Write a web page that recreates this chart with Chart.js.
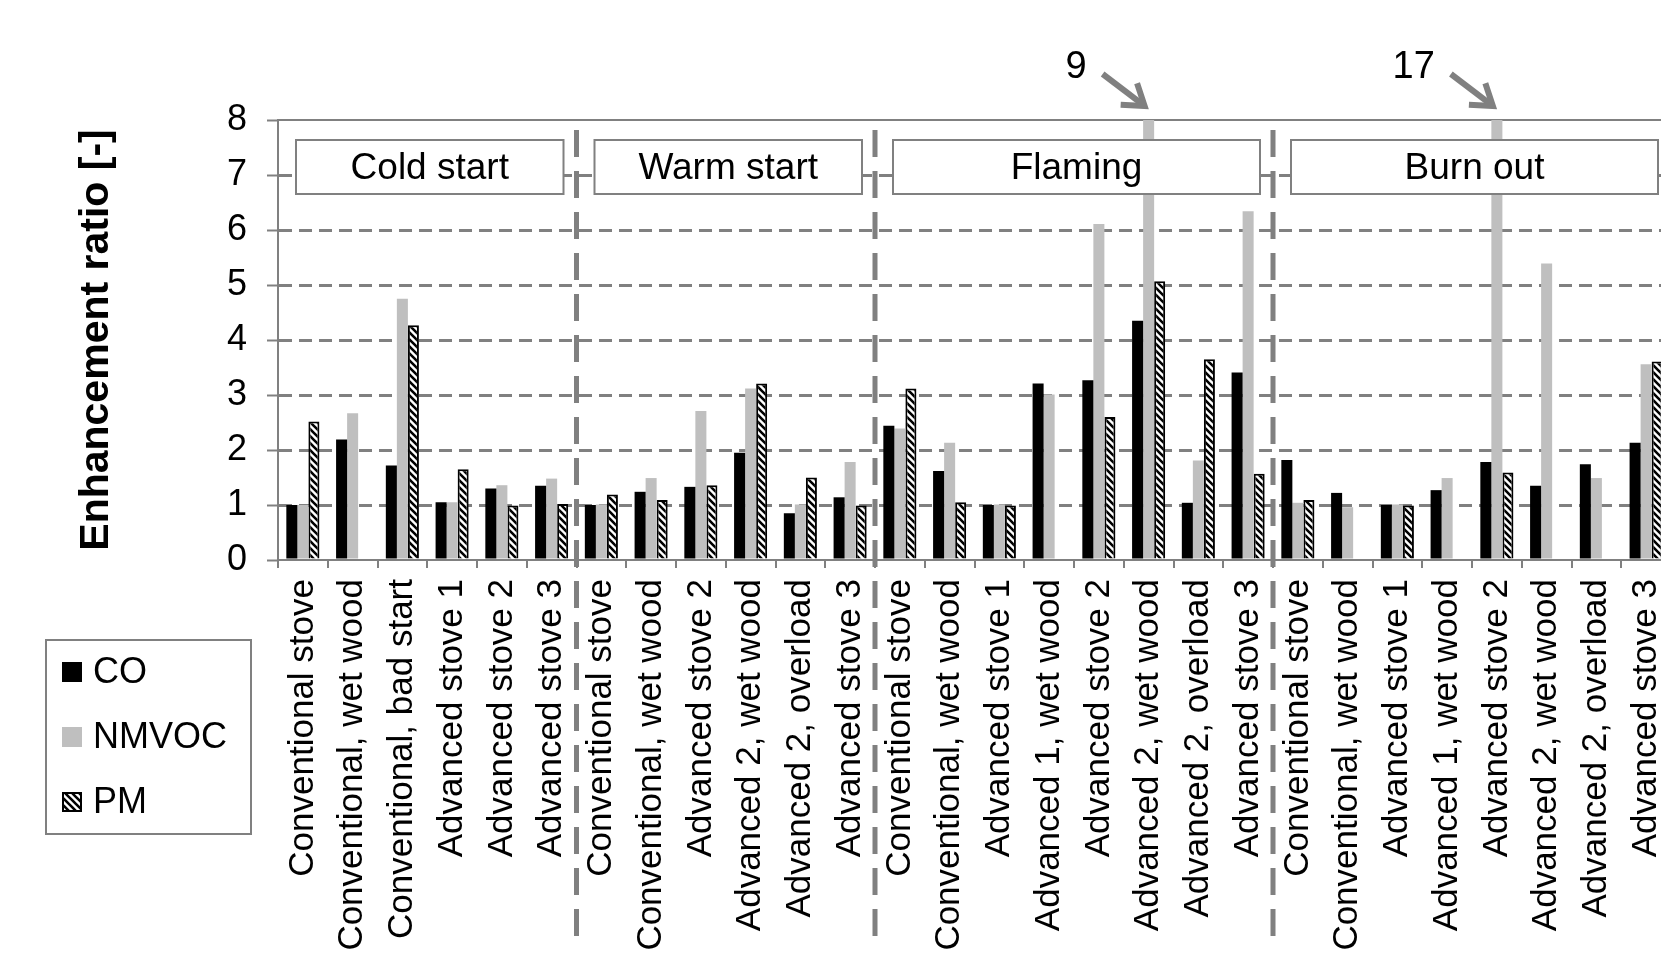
<!DOCTYPE html>
<html lang="en">
<head>
<meta charset="UTF-8">
<title>Enhancement ratio</title>
<script src="https://cdn.jsdelivr.net/npm/chart.js@4.4.1/dist/chart.umd.min.js"></script>
<style>
    html, body { margin: 0; padding: 0; background: #fff; overflow: hidden; }
    #wrap { width: 1690px; height: 954px; }
</style>
</head>
<body>
<div id="wrap"><canvas id="chart" width="1690" height="954"></canvas></div>
<script>
    // categories, grouped by combustion phase
    const categories = [
        'Conventional stove', 'Conventional, wet wood', 'Conventional, bad start',
        'Advanced stove 1', 'Advanced stove 2', 'Advanced stove 3',
        'Conventional stove', 'Conventional, wet wood', 'Advanced stove 2',
        'Advanced 2, wet wood', 'Advanced 2, overload', 'Advanced stove 3',
        'Conventional stove', 'Conventional, wet wood', 'Advanced stove 1', 'Advanced 1, wet wood',
        'Advanced stove 2', 'Advanced 2, wet wood', 'Advanced 2, overload', 'Advanced stove 3',
        'Conventional stove', 'Conventional, wet wood', 'Advanced stove 1', 'Advanced 1, wet wood',
        'Advanced stove 2', 'Advanced 2, wet wood', 'Advanced 2, overload', 'Advanced stove 3'
    ];
    const groupNames = ['Cold start', 'Warm start', 'Flaming', 'Burn out'];
    const groupSizes = [6, 6, 8, 8];

    const coValues = [1.0, 2.19, 1.72, 1.05, 1.30, 1.35,
        1.0, 1.24, 1.33, 1.95, 0.85, 1.14,
        2.44, 1.62, 1.0, 3.21, 3.27, 4.35, 1.04, 3.41,
        1.82, 1.22, 1.0, 1.27, 1.78, 1.35, 1.74, 2.13];
    const nmvocValues = [1.0, 2.67, 4.75, 1.05, 1.36, 1.48,
        1.01, 1.49, 2.71, 3.12, 1.01, 1.78,
        2.39, 2.13, 1.01, 3.01, 6.11, 9, 1.81, 6.34,
        1.04, 0.96, 1.01, 1.49, 17, 5.39, 1.49, 3.56];
    const pmValues = [2.52, null, 4.27, 1.65, 0.99, 1.02,
        1.19, 1.09, 1.36, 3.21, 1.50, 0.99,
        3.12, 1.05, 0.99, null, 2.60, 5.07, 3.65, 1.57,
        1.09, null, 0.99, null, 1.59, null, null, 3.61];

    const yTicks = [0, 1, 2, 3, 4, 5, 6, 7, 8];

    const GREY = '#808080';
    const FONT = "'Liberation Sans', Arial, sans-serif";

    function hatchPattern() {
        const s = 7;
        const c = document.createElement('canvas');
        c.width = s; c.height = s;
        const g = c.getContext('2d');
        g.fillStyle = '#fff';
        g.fillRect(0, 0, s, s);
        g.strokeStyle = '#000';
        g.lineWidth = 2.6;
        g.beginPath();
        g.moveTo(-1, -1); g.lineTo(s + 1, s + 1);
        g.moveTo(-2, s - 2); g.lineTo(2, s + 2);
        g.moveTo(s - 2, -2); g.lineTo(s + 2, 2);
        g.stroke();
        return g.createPattern(c, 'repeat');
    }
    const hatch = hatchPattern();

    // phase boxes, dashed separators, values above the axis, legend
    const overlay = {
        id: 'overlay',
        afterDatasetsDraw(chart) {
            const { ctx, chartArea } = chart;
            const xs = chart.scales.x;
            const half = (xs.getPixelForValue(1) - xs.getPixelForValue(0)) / 2;
            const edge = i => xs.getPixelForValue(i) - half;

            ctx.save();
            let start = 0;
            groupSizes.forEach((n, gi) => {
                const bx = edge(start) + 18;
                const bw = edge(start + n) - 13 - bx;
                const by = chartArea.top + 20;
                ctx.fillStyle = '#fff';
                ctx.fillRect(bx, by, bw, 54);
                ctx.strokeStyle = GREY;
                ctx.lineWidth = 2;
                ctx.strokeRect(bx, by, bw, 54);
                ctx.fillStyle = '#000';
                ctx.font = '37px ' + FONT;
                ctx.textAlign = 'center';
                ctx.textBaseline = 'middle';
                ctx.fillText(groupNames[gi], bx + bw / 2, by + 29);
                start += n;
            });
            ctx.restore();
        },
        afterDraw(chart) {
            const { ctx, chartArea } = chart;
            const xs = chart.scales.x;
            const half = (xs.getPixelForValue(1) - xs.getPixelForValue(0)) / 2;
            const edge = i => xs.getPixelForValue(i) - half;
            const ymax = chart.scales.y.max;

            ctx.save();
            // separators between phases
            ctx.strokeStyle = GREY;
            ctx.lineWidth = 5;
            ctx.setLineDash([27, 14]);
            let start = 0;
            groupSizes.slice(0, -1).forEach(n => {
                start += n;
                const x = edge(start);
                ctx.beginPath();
                ctx.moveTo(x, chartArea.top + 10);
                ctx.lineTo(x, chart.height - 8);
                ctx.stroke();
            });
            ctx.setLineDash([]);

            // off-scale values
            chart.data.datasets.forEach((ds, di) => {
                const meta = chart.getDatasetMeta(di);
                ds.data.forEach((v, i) => {
                    if (v == null || v <= ymax) return;
                    const bar = meta.data[i];
                    const tip = { x: bar.x - 4, y: chartArea.top - 14 };
                    const tail = { x: tip.x - 42, y: tip.y - 32 };
                    const ang = Math.atan2(tip.y - tail.y, tip.x - tail.x);
                    ctx.strokeStyle = GREY;
                    ctx.lineWidth = 6;
                    ctx.beginPath();
                    ctx.moveTo(tail.x, tail.y);
                    ctx.lineTo(tip.x - 3 * Math.cos(ang), tip.y - 3 * Math.sin(ang));
                    ctx.stroke();
                    ctx.beginPath();
                    ctx.moveTo(tip.x - 24 * Math.cos(ang - 0.6), tip.y - 24 * Math.sin(ang - 0.6));
                    ctx.lineTo(tip.x, tip.y);
                    ctx.lineTo(tip.x - 24 * Math.cos(ang + 0.6), tip.y - 24 * Math.sin(ang + 0.6));
                    ctx.stroke();
                    ctx.fillStyle = '#000';
                    ctx.font = '38px ' + FONT;
                    ctx.textAlign = 'right';
                    ctx.textBaseline = 'middle';
                    ctx.fillText(String(v), tail.x - 16, tail.y - 6);
                });
            });

            // legend
            ctx.fillStyle = '#fff';
            ctx.fillRect(46, 640, 205, 194);
            ctx.strokeStyle = GREY;
            ctx.lineWidth = 2;
            ctx.strokeRect(46, 640, 205, 194);
            ctx.font = '36px ' + FONT;
            ctx.textAlign = 'left';
            ctx.textBaseline = 'middle';
            chart.data.datasets.forEach((ds, i) => {
                const cy = 672 + i * 65;
                ctx.fillStyle = ds.backgroundColor;
                ctx.fillRect(62, cy - 10, 20, 20);
                if (ds.borderWidth) {
                    ctx.strokeStyle = ds.borderColor;
                    ctx.lineWidth = ds.borderWidth;
                    ctx.strokeRect(63, cy - 9, 18, 18);
                }
                ctx.fillStyle = '#000';
                ctx.fillText(ds.label, 93, cy + 1);
            });
            ctx.restore();
        }
    };

    new Chart(document.getElementById('chart'), {
        type: 'bar',
        data: {
            labels: categories,
            datasets: [
                { label: 'CO', data: coValues, backgroundColor: '#000000', borderWidth: 0 },
                { label: 'NMVOC', data: nmvocValues, backgroundColor: '#bfbfbf', borderWidth: 0 },
                { label: 'PM', data: pmValues, backgroundColor: hatch, borderColor: '#000000', borderWidth: 2 }
            ]
        },
        options: {
            responsive: false,
            animation: false,
            layout: { padding: { left: 0, top: 120, right: 19, bottom: 0 } },
            datasets: { bar: { categoryPercentage: 0.665, barPercentage: 1 } },
            plugins: { legend: { display: false }, tooltip: { enabled: false } },
            scales: {
                x: {
                    position: 'bottom',
                    grid: {
                        display: true, drawOnChartArea: false, offset: true,
                        tickLength: 8, tickColor: GREY, tickWidth: 2, color: GREY, lineWidth: 2
                    },
                    border: { display: true, color: GREY, width: 2 },
                    ticks: {
                        autoSkip: false, minRotation: 90, maxRotation: 90, padding: 11,
                        color: '#000', font: { family: FONT, size: 35 }
                    },
                    afterFit: s => { s.height = 394; s.paddingLeft = 0; s.paddingRight = 0; }
                },
                x2: {
                    type: 'category',
                    position: 'top',
                    grid: { display: false },
                    ticks: { display: false },
                    border: { display: true, color: GREY, width: 2 },
                    afterFit: s => { s.height = 0; s.paddingLeft = 0; s.paddingRight = 0; }
                },
                y: {
                    min: yTicks[0],
                    max: yTicks[yTicks.length - 1],
                    afterBuildTicks: s => { s.ticks = yTicks.map(v => ({ value: v })); },
                    grid: {
                        color: c => (c.tick && (c.tick.value === yTicks[0] || c.tick.value === yTicks[yTicks.length - 1])) ? 'rgba(0,0,0,0)' : GREY,
                        lineWidth: 3, tickLength: 11, tickColor: GREY, tickWidth: 2
                    },
                    border: { display: true, color: GREY, width: 2, dash: [13, 7] },
                    ticks: { padding: 20, color: '#000', font: { family: FONT, size: 36 } },
                    title: {
                        display: true, text: 'Enhancement ratio [-]', color: '#000',
                        font: { family: FONT, size: 41, weight: 'bold' },
                        padding: { top: 72, bottom: 0 }
                    },
                    afterFit: s => { s.width = 278; }
                }
            }
        },
        plugins: [overlay]
    });
</script>
</body>
</html>
